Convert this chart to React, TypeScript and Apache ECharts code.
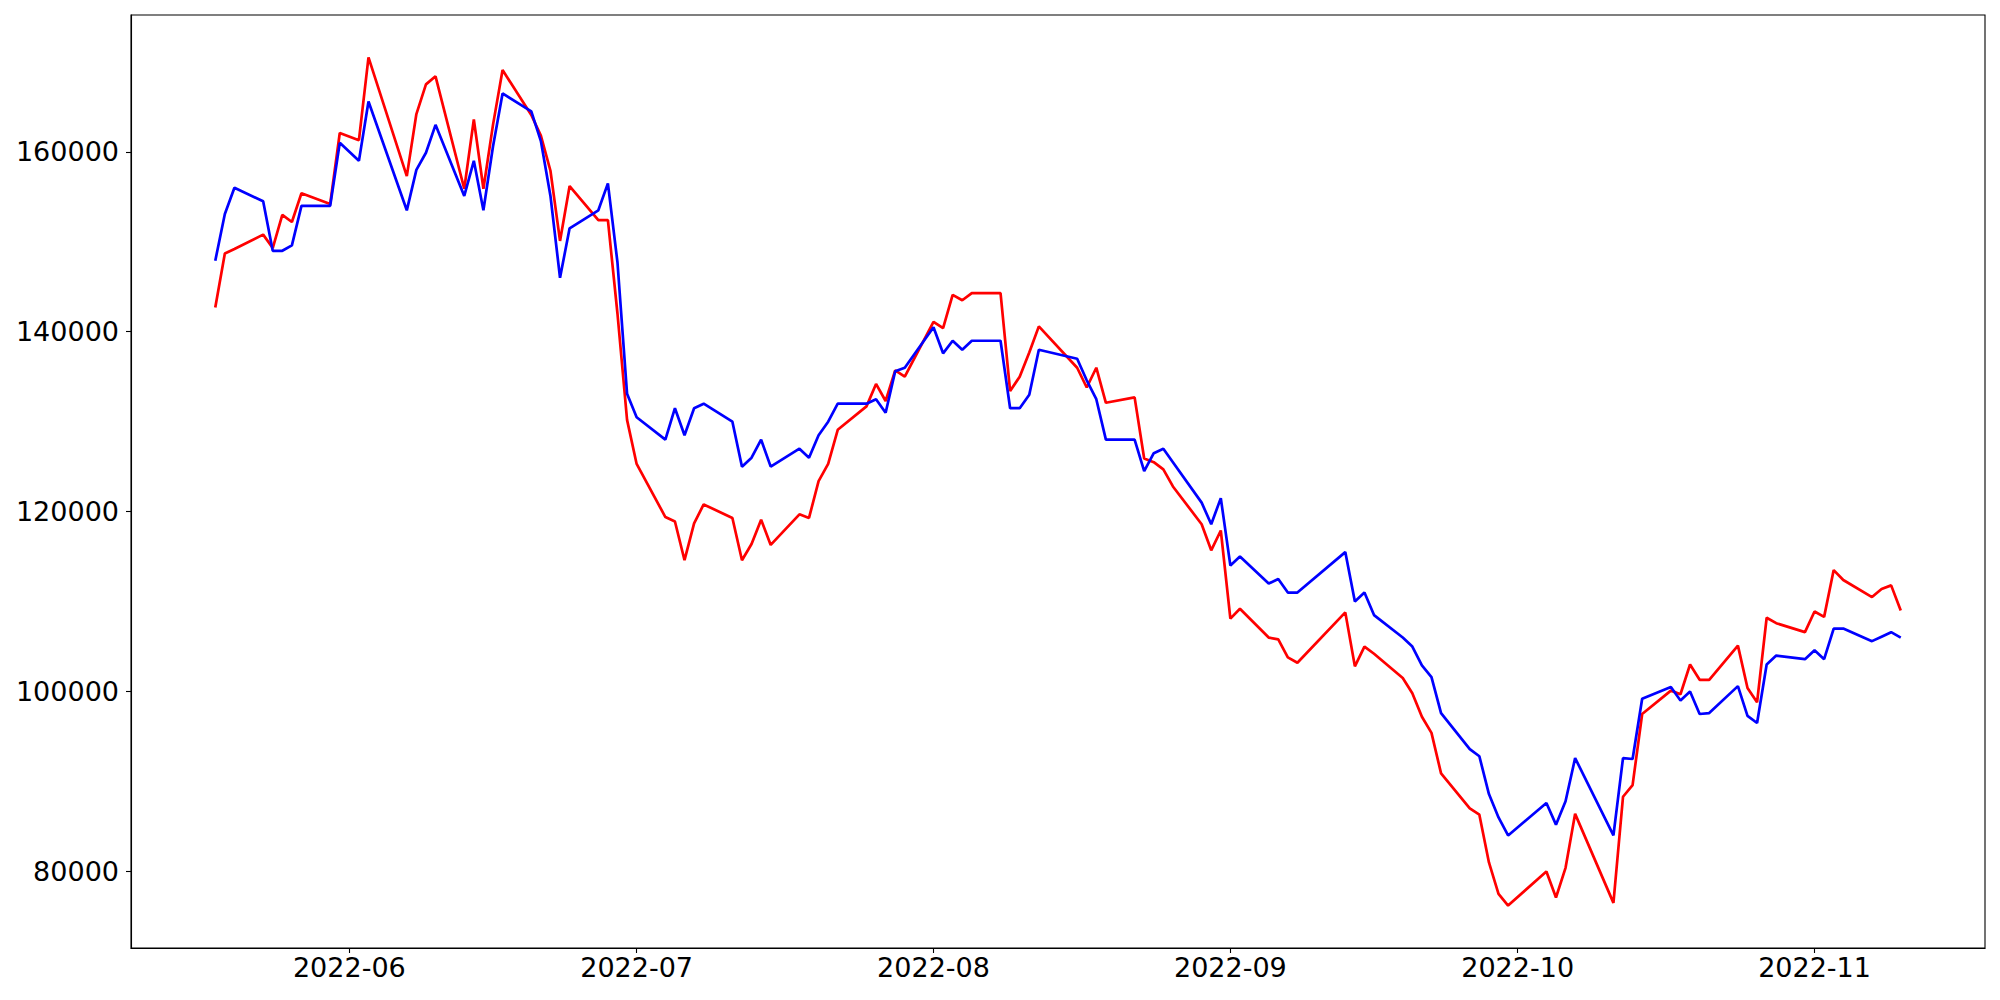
import React, { useEffect, useRef } from "react";
import * as echarts from "echarts";

const dates: string[] = [
  "2022-05-18", "2022-05-19", "2022-05-20", "2022-05-23", "2022-05-24", "2022-05-25", "2022-05-26", "2022-05-27", "2022-05-30", "2022-05-31",
  "2022-06-02", "2022-06-03", "2022-06-07", "2022-06-08", "2022-06-09", "2022-06-10", "2022-06-13", "2022-06-14", "2022-06-15", "2022-06-16",
  "2022-06-17", "2022-06-20", "2022-06-21", "2022-06-22", "2022-06-23", "2022-06-24", "2022-06-27", "2022-06-28", "2022-06-29", "2022-06-30",
  "2022-07-01", "2022-07-04", "2022-07-05", "2022-07-06", "2022-07-07", "2022-07-08", "2022-07-11", "2022-07-12", "2022-07-13", "2022-07-14",
  "2022-07-15", "2022-07-18", "2022-07-19", "2022-07-20", "2022-07-21", "2022-07-22", "2022-07-25", "2022-07-26", "2022-07-27", "2022-07-28",
  "2022-07-29", "2022-08-01", "2022-08-02", "2022-08-03", "2022-08-04", "2022-08-05", "2022-08-08", "2022-08-09", "2022-08-10", "2022-08-11",
  "2022-08-12", "2022-08-16", "2022-08-17", "2022-08-18", "2022-08-19", "2022-08-22", "2022-08-23", "2022-08-24", "2022-08-25", "2022-08-26",
  "2022-08-29", "2022-08-30", "2022-08-31", "2022-09-01", "2022-09-02", "2022-09-05", "2022-09-06", "2022-09-07", "2022-09-08", "2022-09-13",
  "2022-09-14", "2022-09-15", "2022-09-16", "2022-09-19", "2022-09-20", "2022-09-21", "2022-09-22", "2022-09-23", "2022-09-26", "2022-09-27",
  "2022-09-28", "2022-09-29", "2022-09-30", "2022-10-04", "2022-10-05", "2022-10-06", "2022-10-07", "2022-10-11", "2022-10-12", "2022-10-13",
  "2022-10-14", "2022-10-17", "2022-10-18", "2022-10-19", "2022-10-20", "2022-10-21", "2022-10-24", "2022-10-25", "2022-10-26", "2022-10-27",
  "2022-10-28", "2022-10-31", "2022-11-01", "2022-11-02", "2022-11-03", "2022-11-04", "2022-11-07", "2022-11-08", "2022-11-09", "2022-11-10",
];

const redValues: number[] = [
  142700, 148700, 149200, 150800, 149300, 153000, 152200, 155400, 154200, 162100,
  161300, 170500, 157300, 164200, 167500, 168400, 155900, 163600, 155900, 163000,
  169100, 164100, 161800, 157900, 150100, 156200, 152400, 152400, 142000, 130200,
  125300, 119400, 118900, 114600, 118700, 120800, 119300, 114600, 116400, 119100,
  116300, 119700, 119300, 123400, 125300, 129100, 131700, 134200, 132300, 135700,
  135000, 141100, 140400, 144100, 143500, 144300, 144300, 133400, 135000, 137700,
  140600, 136000, 133800, 136000, 132100, 132700, 125900, 125500, 124700, 122800,
  118600, 115700, 117900, 108100, 109200, 106000, 105800, 103800, 103200, 108800,
  102800, 105000, 104200, 101500, 99800, 97200, 95400, 90900, 87000, 86300,
  81000, 77500, 76200, 80000, 77100, 80400, 86400, 76500, 88300, 89600,
  97500, 100100, 99700, 103000, 101300, 101300, 105100, 100400, 98800, 108200,
  107600, 106600, 108900, 108300, 113500, 112400, 110500, 111400, 111800, 109000,
];

const blueValues: number[] = [
  147900, 153100, 156000, 154500, 149000, 149000, 149600, 154000, 154000, 161000,
  159000, 165600, 153500, 158000, 159900, 163000, 155100, 159000, 153500, 160600,
  166500, 164500, 161200, 155100, 146000, 151500, 153500, 156500, 147700, 133100,
  130500, 128000, 131500, 128500, 131500, 132000, 130000, 125000, 126000, 128000,
  125000, 127000, 126000, 128500, 130000, 132000, 132000, 132500, 131000, 135600,
  136000, 140500, 137600, 139000, 138000, 139000, 139000, 131500, 131500, 133000,
  138000, 137000, 134600, 132500, 128000, 128000, 124500, 126500, 127000, 125500,
  121000, 118600, 121500, 114000, 115000, 112000, 112500, 111000, 111000, 115500,
  110000, 111000, 108500, 106000, 105000, 102900, 101600, 97600, 93600, 92800,
  88600, 86000, 84000, 87600, 85200, 87800, 92600, 84000, 92600, 92500,
  99200, 100500, 99000, 100000, 97500, 97600, 100600, 97300, 96500, 103000,
  104000, 103600, 104600, 103600, 107000, 107000, 105600, 106100, 106600, 106000,
];

const monthTicks: string[] = ["2022-06-01", "2022-07-01", "2022-08-01", "2022-09-01", "2022-10-01", "2022-11-01"];
const yTicks: number[] = [80000, 100000, 120000, 140000, 160000];

function toTs(s: string): number {
  const [y, m, d] = s.split("-").map(Number);
  return new Date(y, m - 1, d).getTime();
}

export default function App() {
  const ref = useRef<HTMLDivElement>(null);
  useEffect(() => {
    if (!ref.current) return;
    const chart = echarts.init(ref.current, null, { renderer: "svg" });
    const ts = dates.map(toTs);
    const xMinD = ts[0];
    const xMaxD = ts[ts.length - 1];
    const xSpan = xMaxD - xMinD;
    const all = redValues.concat(blueValues);
    const yMinD = Math.min(...all);
    const yMaxD = Math.max(...all);
    const ySpan = yMaxD - yMinD;
    const monthTs = monthTicks.map(toTs);
    const font = "DejaVu Sans";
    chart.setOption({
      animation: false,
      backgroundColor: "#ffffff",
      grid: {
        left: 131,
        right: 15,
        top: 15,
        bottom: 52,
        show: true,
        borderColor: "#000000",
        borderWidth: 1.1,
        containLabel: false,
      },
      xAxis: {
        type: "value",
        min: xMinD - 0.05 * xSpan,
        max: xMaxD + 0.05 * xSpan,
        axisLine: { show: true, onZero: false, lineStyle: { color: "#000", width: 1.1 } },
        axisTick: { show: true, customValues: monthTs, length: 5, lineStyle: { color: "#000", width: 1.1 } },
        axisLabel: {
          customValues: monthTs,
          color: "#000",
          fontSize: 27,
          fontFamily: font,
          margin: 6,
          formatter: (v: number) => {
            const d = new Date(v);
            return `${d.getFullYear()}-${String(d.getMonth() + 1).padStart(2, "0")}`;
          },
        },
        splitLine: { show: false },
      },
      yAxis: {
        type: "value",
        min: yMinD - 0.05 * ySpan,
        max: yMaxD + 0.05 * ySpan,
        axisLine: { show: true, onZero: false, lineStyle: { color: "#000", width: 1.1 } },
        axisTick: { show: true, customValues: yTicks, length: 5, lineStyle: { color: "#000", width: 1.1 } },
        axisLabel: {
          customValues: yTicks,
          color: "#000",
          fontSize: 27,
          fontFamily: font,
          margin: 12,
          formatter: (v: number) => String(v),
        },
        splitLine: { show: false },
      },
      series: [
        {
          type: "line",
          data: ts.map((t, i) => [t, redValues[i]]),
          showSymbol: false,
          symbol: "none",
          lineStyle: { color: "#ff0000", width: 2.7 },
          itemStyle: { color: "#ff0000" },
        },
        {
          type: "line",
          data: ts.map((t, i) => [t, blueValues[i]]),
          showSymbol: false,
          symbol: "none",
          lineStyle: { color: "#0000ff", width: 2.7 },
          itemStyle: { color: "#0000ff" },
        },
      ],
    });
    return () => chart.dispose();
  }, []);
  return (
    <div
      ref={ref}
      style={{ position: "absolute", left: 0, top: 0, width: 2000, height: 1000, background: "#fff" }}
    />
  );
}
